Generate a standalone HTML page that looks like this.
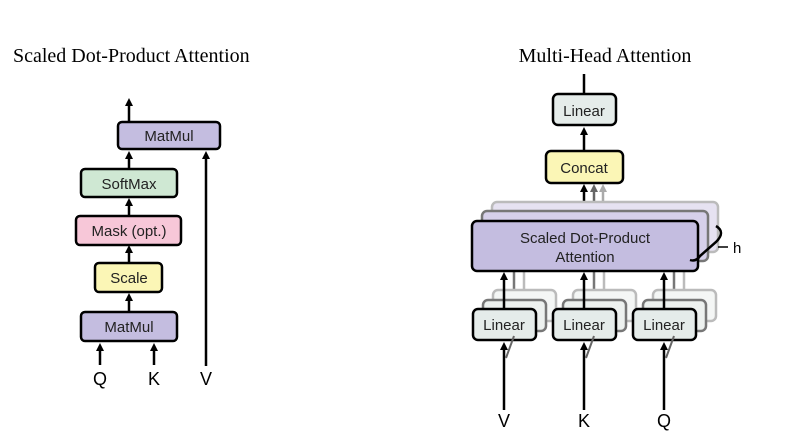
<!DOCTYPE html>
<html><head><style>
body{margin:0;background:#fff;}
svg text{font-family:"Liberation Sans",sans-serif;}
</style></head><body>
<svg width="785" height="439" viewBox="0 0 785 439" xmlns="http://www.w3.org/2000/svg">
<defs>
<marker id="a" markerWidth="8" markerHeight="8" refX="4" refY="4" orient="auto" markerUnits="userSpaceOnUse"><path d="M0,0 L8,4 L0,8 z" fill="#000"/></marker>
<marker id="ag" markerWidth="8" markerHeight="8" refX="4" refY="4" orient="auto" markerUnits="userSpaceOnUse"><path d="M0,0 L8,4 L0,8 z" fill="#666"/></marker>
<marker id="al" markerWidth="8" markerHeight="8" refX="4" refY="4" orient="auto" markerUnits="userSpaceOnUse"><path d="M0,0 L8,4 L0,8 z" fill="#aaa"/></marker>
</defs>
<text x="13" y="62" font-family="Liberation Serif,serif" font-size="20" style="font-family:'Liberation Serif',serif">Scaled Dot-Product Attention</text>
<text x="605" y="62" text-anchor="middle" font-size="20" style="font-family:'Liberation Serif',serif">Multi-Head Attention</text>

<g stroke="#000" stroke-width="2.5" fill="none">
<line x1="129" y1="121" x2="129" y2="102" marker-end="url(#a)"/>
<line x1="129" y1="169" x2="129" y2="155" marker-end="url(#a)"/>
<line x1="129" y1="216" x2="129" y2="202" marker-end="url(#a)"/>
<line x1="129" y1="263" x2="129" y2="249" marker-end="url(#a)"/>
<line x1="129" y1="312" x2="129" y2="297" marker-end="url(#a)"/>
<line x1="206" y1="366" x2="206" y2="155" marker-end="url(#a)"/>
<line x1="100" y1="365" x2="100" y2="347" marker-end="url(#a)"/>
<line x1="154" y1="365" x2="154" y2="347" marker-end="url(#a)"/>
</g>
<g stroke="#000" stroke-width="2.5" font-size="15">
<rect x="118" y="122" width="102" height="27" rx="4" fill="#c4bde0"/>
<rect x="81" y="169" width="96" height="28" rx="4" fill="#cfe8d3"/>
<rect x="76" y="216" width="105" height="29" rx="4" fill="#f7c7d8"/>
<rect x="95" y="263" width="67" height="29" rx="4" fill="#fbf6b6"/>
<rect x="81" y="312" width="96" height="29" rx="4" fill="#c4bde0"/>
</g>
<g font-size="15" text-anchor="middle" fill="#222">
<text x="169" y="141">MatMul</text>
<text x="129" y="189">SoftMax</text>
<text x="129" y="236">Mask (opt.)</text>
<text x="129" y="283">Scale</text>
<text x="129" y="332">MatMul</text>
</g>
<g font-size="18" text-anchor="middle">
<text x="100" y="385">Q</text><text x="154" y="385">K</text><text x="206" y="385">V</text>
</g>

<!-- right -->
<line x1="584" y1="94" x2="584" y2="74" stroke="#000" stroke-width="2.5"/>
<line x1="584" y1="151" x2="584" y2="131" stroke="#000" stroke-width="2.5" marker-end="url(#a)"/>
<rect x="553" y="94" width="63" height="31" rx="5" fill="#e5ecea" stroke="#000" stroke-width="2.5"/>
<text x="584" y="116" font-size="15" text-anchor="middle" fill="#222">Linear</text>
<line x1="603" y1="202" x2="603" y2="188" stroke="#aaa" stroke-width="2.5" marker-end="url(#al)"/>
<line x1="594" y1="211" x2="594" y2="188" stroke="#666" stroke-width="2.5" marker-end="url(#ag)"/>
<line x1="584" y1="221" x2="584" y2="188" stroke="#000" stroke-width="2.5" marker-end="url(#a)"/>
<rect x="546" y="151" width="77" height="32" rx="5" fill="#fbf6b6" stroke="#000" stroke-width="2.5"/>
<text x="584" y="173" font-size="15" text-anchor="middle" fill="#222">Concat</text>

<rect x="492" y="202" width="226" height="50" rx="5" fill="#e6e2f1" stroke="#bbb" stroke-width="2.5"/>
<rect x="482" y="211" width="226" height="50" rx="5" fill="#d6d0ea" stroke="#777" stroke-width="2.5"/>
<!-- lines from back linears -->
<g stroke-width="2.5">
<line x1="524" y1="290" x2="524" y2="261" stroke="#bbb"/><line x1="514" y1="300" x2="514" y2="271" stroke="#777"/>
<line x1="604" y1="290" x2="604" y2="261" stroke="#bbb"/><line x1="594" y1="300" x2="594" y2="271" stroke="#777"/>
<line x1="684" y1="290" x2="684" y2="261" stroke="#bbb"/><line x1="674" y1="300" x2="674" y2="271" stroke="#777"/>
</g>
<rect x="472" y="221" width="226" height="50" rx="5" fill="#c4bde0" stroke="#000" stroke-width="2.5"/>
<text x="585" y="243" font-size="15" text-anchor="middle" fill="#222">Scaled Dot-Product</text>
<text x="585" y="262" font-size="15" text-anchor="middle" fill="#222">Attention</text>
<path d="M716,226 Q726,232 716,242 L700,256 Q696,262 690,260" stroke="#000" stroke-width="2.5" fill="none"/>
<line x1="718" y1="247" x2="728" y2="247" stroke="#000" stroke-width="1.5"/>
<text x="733" y="253" font-size="15">h</text>

<g id="lin">
<rect x="493" y="290" width="63" height="31" rx="5" fill="#f4f6f5" stroke="#bbb" stroke-width="2.5"/>
<rect x="483" y="300" width="63" height="31" rx="5" fill="#edf1ef" stroke="#777" stroke-width="2.5"/>
<line x1="504" y1="309" x2="504" y2="276" stroke="#000" stroke-width="2.5" marker-end="url(#a)"/>
<rect x="473" y="309" width="63" height="31" rx="5" fill="#e5ecea" stroke="#000" stroke-width="2.5"/>
<text x="504" y="330" font-size="15" text-anchor="middle" fill="#222">Linear</text>
<line x1="504" y1="410" x2="504" y2="346" stroke="#000" stroke-width="2.5" marker-end="url(#a)"/>
<line x1="506" y1="358" x2="514" y2="336" stroke="#666" stroke-width="2"/>
</g>
<use href="#lin" x="80"/>
<use href="#lin" x="160"/>
<g font-size="18" text-anchor="middle">
<text x="504" y="427">V</text><text x="584" y="427">K</text><text x="664" y="427">Q</text>
</g>
</svg>
</body></html>
